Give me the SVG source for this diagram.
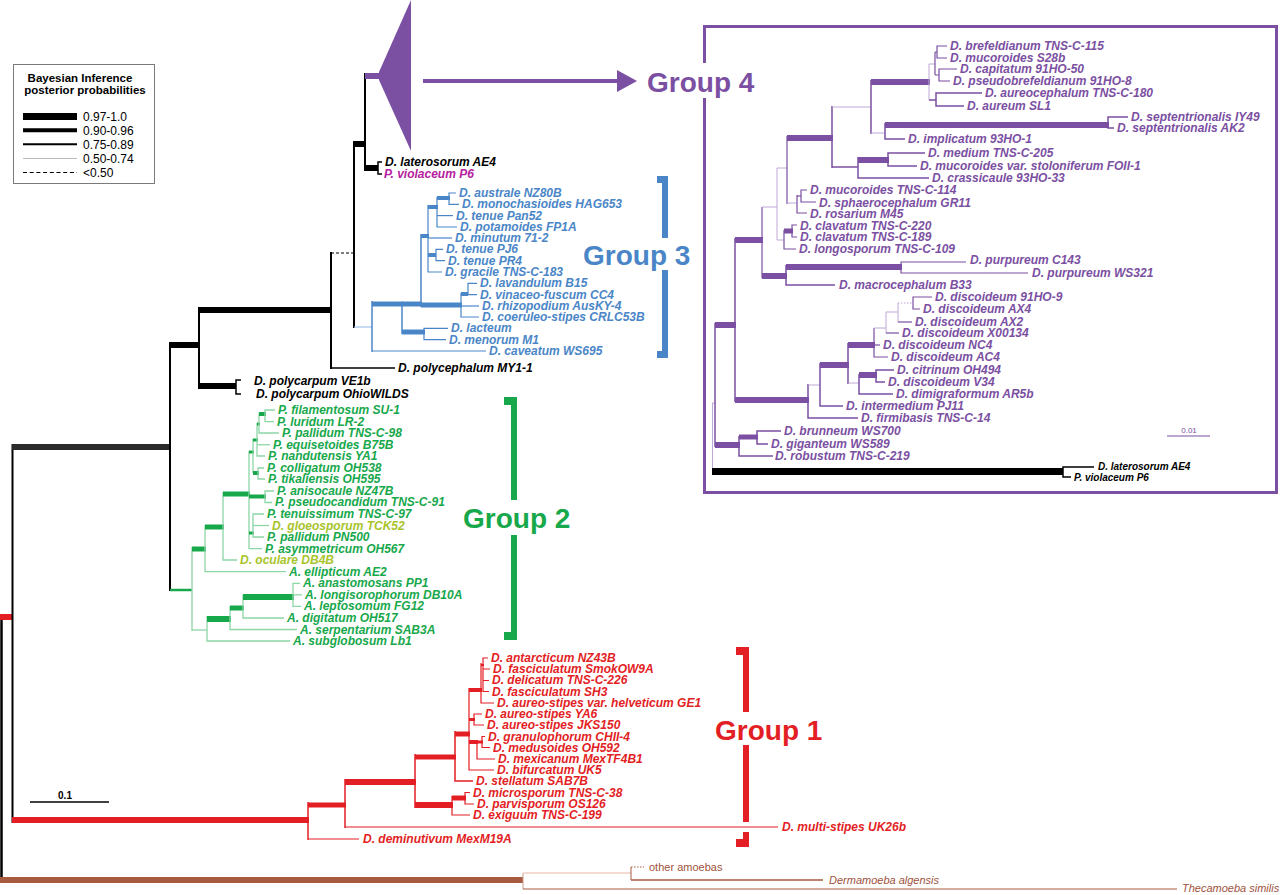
<svg xmlns="http://www.w3.org/2000/svg" width="1280" height="895" viewBox="0 0 1280 895">
<style>
text{font-family:"Liberation Sans",Arial,Helvetica,sans-serif}
.lab{font-size:12px;font-weight:bold;font-style:italic}
.lsm{font-size:10px;font-weight:bold;font-style:italic}
.grp{font-size:28px;font-weight:bold}
.leg{font-size:12px}
.legt{font-size:11.5px;font-weight:bold}
.blk{fill:#000}
.pur{fill:#7b4fa2}
.blu{fill:#4a86c7}
.grn{fill:#17a84b}
.ylg{fill:#a8c42c}
.red{fill:#e31e24}
.brn{fill:#a0523c;font-size:11px;font-style:italic}
path{fill:none}
.k{stroke:#000}
.p{stroke:#7b4fa2}
.pl{stroke:#bea8d8;stroke-width:1}
.b{stroke:#4a86c7}
.bl{stroke:#a9c7ec;stroke-width:1.3}
.g{stroke:#17a84b}
.gl{stroke:#8dd6a6;stroke-width:1.3}
.r{stroke:#e31e24}
.br{stroke:#a65a40}
.w7{stroke-width:7}.w6{stroke-width:6}.w5{stroke-width:5}.w4{stroke-width:4}.w3{stroke-width:3}.w2{stroke-width:2}.w15{stroke-width:1.5}.w1{stroke-width:1.2}
</style>
<rect x="0" y="0" width="1280" height="895" fill="#fff"/>

<g id="legend">
<rect x="13.5" y="64.5" width="141" height="119" fill="#fff" stroke="#7a7a7a" stroke-width="1"/>
<text class="legt" x="80" y="82" text-anchor="middle">Bayesian Inference</text>
<text class="legt" x="85" y="94" text-anchor="middle">posterior probabilities</text>
<path class="k w7" d="M23,116.5H77"/>
<path class="k w4" d="M23,130.3H77"/>
<path class="k w2" d="M23,144.3H77"/>
<path stroke="#bbb" stroke-width="1" d="M23,158.5H77"/>
<path class="k" stroke-width="1" stroke-dasharray="4,2.7" d="M23,172.5H77"/>
<text class="leg" x="83" y="121">0.97-1.0</text>
<text class="leg" x="83" y="135">0.90-0.96</text>
<text class="leg" x="83" y="149">0.75-0.89</text>
<text class="leg" x="83" y="163">0.50-0.74</text>
<text class="leg" x="83" y="177">&lt;0.50</text>
</g>

<g id="scale-bar">
<path class="k w15" d="M30,802H109"/>
<text x="65" y="799" text-anchor="middle" font-size="10" font-weight="bold">0.1</text>
</g>

<g id="group4-collapsed">
<polygon fill="#7b4fa2" points="379,72 411,0 411,151 379,80"/>
</g>

<g id="connectors">
<path class="k" stroke-width="2.5" d="M1.5,617V883"/>
<path class="r w6" d="M0,617H13"/>
<path class="k w2" d="M12.5,444V823"/>
<path stroke="#2b2b2b" class="w6" d="M12,447H171"/>
<path class="r w6" d="M12,820H309"/>
<path class="k w2" d="M170,342V591"/>
<path class="k w6" d="M170,345H200"/>
<path class="k w2" d="M199,307V389"/>
<path class="k w6" d="M199,310H332"/>
<path class="k w6" d="M199,386H236"/>
<path class="k w15" d="M241,380H236V394H241"/>
<path class="k w2" d="M331,252V369"/>
<path class="k w1" stroke-dasharray="3,2" d="M331,253H354"/>
<path class="k w15" d="M331,368H395"/>
<path class="k w2" d="M354,141V328"/>
<path class="k w6" d="M354,144H366"/>
<path class="k w2" d="M365,73V171"/>
<path class="p w6" d="M365,76H381"/>
<path class="k w6" d="M365,168H378"/>
<path class="k w15" d="M382,162H378V174H382"/>
<path class="bl" d="M354,327H372"/>
<path class="p w4" d="M423,81H620"/>
<polygon fill="#7b4fa2" points="617,70 637,81 617,92"/>

<path class="b w15" d="M372,301V352"/>
<path class="b w5" d="M372,304H403"/>
<path class="b w1" d="M372,351H486"/>
<path class="b w15" d="M402,302V334"/>
<path class="b w5" d="M402,304H422"/>
<path class="b w5" d="M402,332H425"/>
<path class="b w1" d="M448,328.4H424V339.7H446"/>
<path class="b w15" d="M421,234V307"/>
<path class="b w4" d="M421,236H429"/>
<path class="b w5" d="M421,305H462"/>
<path class="b w1" d="M428,205V272H442"/>
<path class="b w4" d="M428,207H438"/>
<path class="b w1" d="M428,238H452"/>
<path class="b w4" d="M428,255H436"/>
<path class="b w1" d="M437,197V227H457"/>
<path class="b w4" d="M437,198H450"/>
<path class="b w1" d="M437,215.6H453"/>
<path class="b w1" d="M456,193H449V204.3H459"/>
<path class="b w1" d="M443,249.4H436V260.7H445"/>
<path class="b w1" d="M461,293V317H479"/>
<path class="b w1" d="M461,306H479"/>
<path class="b w4" d="M461,294H468"/>
<path class="b w1" d="M477,283.3H468V294.6H477"/>

<path class="g" stroke-width="2.5" d="M170,590H192"/>
<path class="gl" d="M192,547V631"/>
<path class="g w5" d="M192,549H206"/>
<path class="gl" d="M192,630H207"/>
<path class="gl" d="M205,525V571.7H286"/>
<path class="g w5" d="M205,527H224"/>
<path class="gl" d="M223,492V560H237"/>
<path class="g w5" d="M223,494H250"/>
<path class="gl" d="M249,451V548.6H262"/>
<path class="g w3" d="M249,452H254"/>
<path class="g w4" d="M249,496.5H266"/>
<path class="gl" d="M274,491H265V502.5H272"/>
<path class="g w3" d="M249,533H254"/>
<path class="gl" d="M253,439V473"/>
<path class="g w3" d="M253,440H258"/>
<path class="g w4" d="M253,473H259"/>
<path class="gl" d="M264,468H258V479H265"/>
<path class="gl" d="M257,423V456H265"/>
<path class="gl" d="M257,444.7H270"/>
<path class="g w3" d="M257,424H260"/>
<path class="gl" d="M259,413V433H279"/>
<path class="g w4" d="M259,414H266"/>
<path class="gl" d="M275,410H265V421.6H274"/>
<path class="gl" d="M264,514H253V537H264"/>
<path class="gl" d="M253,525.5H269"/>
<path class="gl" d="M207,616V641H290"/>
<path class="g w6" d="M207,619H231"/>
<path class="gl" d="M230,606V629.5H297"/>
<path class="g w5" d="M230,608H244"/>
<path class="gl" d="M243,595V618H284"/>
<path class="g w6" d="M243,597H294"/>
<path class="gl" d="M300,583.3H293V606.4H301M293,594.8H302"/>

<path class="r w15" d="M308,802V840"/>
<path class="r w5" d="M308,805H346"/>
<path class="r w1" d="M308,839H359"/>
<path class="r w15" d="M345,779V828"/>
<path class="r w6" d="M345,782H416"/>
<path class="r w1" d="M345,827H778"/>
<path class="r w15" d="M415,754V808"/>
<path class="r w5" d="M415,757H456"/>
<path class="r w6" d="M415,805H453"/>
<path class="r w15" d="M455,731V781H473"/>
<path class="r w5" d="M455,734H470"/>
<path class="r w1" d="M469,688V770H494"/>
<path class="r w4" d="M469,690H482"/>
<path class="r w3" d="M469,719.5H475"/>
<path class="r w1" d="M482,714H474V725H484"/>
<path class="r w4" d="M469,742H478"/>
<path class="r w1" d="M481,663V703H494"/>
<path class="r w2" d="M481,665H484"/>
<path class="r w1" d="M488,658H483V691.5H489M483,669H490M483,680.5H489"/>
<path class="r w1" d="M477,740V759H495"/>
<path class="r w3" d="M477,742H483"/>
<path class="r w1" d="M485,736.5H482V747.5H490"/>
<path class="r w1" d="M452,796V815H470"/>
<path class="r w5" d="M452,798H466"/>
<path class="r w1" d="M470,792.5H465V804H474"/>

<path class="br w6" d="M0,880H523"/>
<path stroke="#c99a88" stroke-width="1" d="M523,873V889"/>
<path stroke="#f0cfc2" stroke-width="1.5" d="M523,873H631"/>
<path class="br" stroke-width="1" d="M631,867V880"/>
<path class="br" stroke-width="1" stroke-dasharray="1.5,1.5" d="M631,867H644"/>
<path class="br w15" d="M631,880H823"/>
<path class="br w1" d="M523,889H1177"/>

<path class="pl" d="M712.5,403V472M712,403H716"/>
<path class="k w7" d="M712,471.5H1063"/>
<path class="k w15" d="M1094,467H1063V477H1071"/>
<path class="p w15" d="M715,323V447"/>
<path class="p w6" d="M715,325H736"/>
<path class="p w6" d="M715,445H740"/>
<path class="p w15" d="M739,436V456H773"/>
<path class="p w5" d="M739,437H758"/>
<path class="p w15" d="M781,431H757V444H768"/>
<path class="p w15" d="M735,238V402"/>
<path class="p w6" d="M735,240H763"/>
<path class="p w6" d="M735,400H809"/>
<path class="p w1" d="M762,207V278"/>
<path class="pl" d="M762,207H777"/>
<path class="p w6" d="M762,276H787"/>
<path class="p w15" d="M786,265V285H835"/>
<path class="p w6" d="M786,267H902"/>
<path class="p w1" d="M966,262H901V273H1028"/>
<path class="pl" d="M777,168V240M777,168H787M777,240H784"/>
<path class="p w1" d="M787,136V204"/>
<path class="p w6" d="M787,138H833"/>
<path class="pl" d="M787,203H797"/>
<path class="p w15" d="M832,106V168"/>
<path class="pl" d="M832,107H871"/>
<path class="p w15" d="M832,167H858"/>
<path class="p w15" d="M871,80V134"/>
<path class="p w6" d="M871,82H930"/>
<path class="pl" d="M871,133H885"/>
<path class="pl" d="M929,64V100M929,64H935"/>
<path class="p w15" d="M929,100H936"/>
<path class="p w1" d="M935,52V75"/>
<path class="p w1" d="M935,52H937M935,75H939"/>
<path class="p w1" d="M947,46H937V58H947"/>
<path class="p w1" d="M957,69H939V81H950"/>
<path class="p w15" d="M982,93H936V106H964"/>
<path class="p w15" d="M885,123V139H905"/>
<path class="p w6" d="M885,125H1109"/>
<path class="p w15" d="M1128,117H1108V128H1114"/>
<path class="p w15" d="M858,157V178H929"/>
<path class="p w6" d="M858,160H889"/>
<path class="p w15" d="M925,153H888V166H917"/>
<path class="p w1" d="M797,195V213H807"/>
<path class="p w1" d="M797,196H801"/>
<path class="p w1" d="M807,190H801V202H816"/>
<path class="p w1" d="M784,230V249H796"/>
<path class="p w5" d="M784,231H793"/>
<path class="p w1" d="M797,225H792V237H797"/>
<path class="p w15" d="M808,384V418H858"/>
<path class="pl" d="M808,385H820"/>
<path class="p w15" d="M820,363V406H843"/>
<path class="p w6" d="M820,365H849"/>
<path class="p w15" d="M848,343V384"/>
<path class="p w6" d="M848,345H875"/>
<path class="pl" d="M848,383H859"/>
<path class="p w15" d="M859,374V394H893"/>
<path class="p w6" d="M859,375H877"/>
<path class="p w15" d="M894,370H876V382H885"/>
<path class="p w1" d="M874,328V357H888"/>
<path class="p w1" d="M874,345H880"/>
<path class="pl" d="M874,328H886M886,312V333M886,312H898"/>
<path class="p w1" d="M886,333H899"/>
<path class="pl" d="M898,303V322"/>
<path class="p w1" d="M898,322H912"/>
<path class="pl" stroke-dasharray="1.5,1.5" d="M898,303H913"/>
<path class="p w1" d="M932,297H913V309H920"/>
</g>

<g id="brackets">
<rect x="657" y="176" width="11" height="7" fill="#4a86c7"/>
<rect x="662" y="176" width="6" height="62" fill="#4a86c7"/>
<rect x="662" y="270" width="6" height="88" fill="#4a86c7"/>
<rect x="657" y="351" width="11" height="7" fill="#4a86c7"/>
<rect x="504" y="397" width="13" height="8" fill="#17a84b"/>
<rect x="511" y="397" width="6" height="103" fill="#17a84b"/>
<rect x="511" y="535" width="6" height="105" fill="#17a84b"/>
<rect x="504" y="632" width="13" height="8" fill="#17a84b"/>
<rect x="736" y="647" width="13" height="8" fill="#e31e24"/>
<rect x="743" y="647" width="6" height="65" fill="#e31e24"/>
<rect x="743" y="745" width="6" height="77" fill="#e31e24"/>
<rect x="743" y="832" width="6" height="15" fill="#e31e24"/>
<rect x="736" y="839" width="13" height="8" fill="#e31e24"/>
</g>

<g id="group4-box">
<path class="p" stroke-width="3" d="M704.5,63V26.5H1276.5V492.5H704.5V98"/>
<path class="p" stroke-width="1" d="M1167,436H1210"/>
<text x="1189" y="433" text-anchor="middle" font-size="8" class="pur">0.01</text>
</g>

<g id="group-titles">
<text class="grp" fill="#7b4fa2" x="647" y="92">Group 4</text>
<text class="grp" fill="#4a86c7" x="583" y="265">Group 3</text>
<text class="grp" fill="#17a84b" x="463" y="528">Group 2</text>
<text class="grp" fill="#e31e24" x="715" y="740">Group 1</text>
</g>

<g id="labels-main">
<text class="lab blk" x="385" y="166">D. laterosorum AE4</text>
<text class="lab" fill="#b5219e" x="384" y="178">P. violaceum P6</text>
<text class="lab blk" x="398" y="372">D. polycephalum MY1-1</text>
<text class="lab blk" x="254" y="385">D. polycarpum VE1b</text>
<text class="lab blk" x="256" y="398">D. polycarpum OhioWILDS</text>
</g>

<g id="labels-group3" class="lab blu">
<text x="459" y="197">D. australe NZ80B</text>
<text x="462" y="208.3">D. monochasioides HAG653</text>
<text x="456" y="219.6">D. tenue Pan52</text>
<text x="460" y="230.9">D. potamoides FP1A</text>
<text x="455" y="242.1">D. minutum 71-2</text>
<text x="446" y="253.4">D. tenue PJ6</text>
<text x="448" y="264.7">D. tenue PR4</text>
<text x="445" y="276">D. gracile TNS-C-183</text>
<text x="480" y="287.3">D. lavandulum B15</text>
<text x="480" y="298.6">D. vinaceo-fuscum CC4</text>
<text x="482" y="309.9">D. rhizopodium AusKY-4</text>
<text x="482" y="321.1">D. coeruleo-stipes CRLC53B</text>
<text x="451" y="332.4">D. lacteum</text>
<text x="449" y="343.7">D. menorum M1</text>
<text x="489" y="355">D. caveatum WS695</text>
</g>

<g id="labels-group2" class="lab grn">
<text x="278" y="414">P. filamentosum SU-1</text>
<text x="277" y="425.6">P. luridum LR-2</text>
<text x="282" y="437.1">P. pallidum TNS-C-98</text>
<text x="273" y="448.7">P. equisetoides B75B</text>
<text x="268" y="460.2">P. nandutensis YA1</text>
<text x="267" y="471.8">P. colligatum OH538</text>
<text x="268" y="483.3">P. tikaliensis OH595</text>
<text x="277" y="494.9">P. anisocaule NZ47B</text>
<text x="275" y="506.4">P. pseudocandidum TNS-C-91</text>
<text x="267" y="518">P. tenuissimum TNS-C-97</text>
<text x="272" y="529.5" class="ylg">D. gloeosporum TCK52</text>
<text x="267" y="541.1">P. pallidum PN500</text>
<text x="265" y="552.6">P. asymmetricum OH567</text>
<text x="240" y="564.2" class="ylg">D. oculare DB4B</text>
<text x="289" y="575.7">A. ellipticum AE2</text>
<text x="303" y="587.3">A. anastomosans PP1</text>
<text x="305" y="598.8">A. longisorophorum DB10A</text>
<text x="304" y="610.4">A. leptosomum FG12</text>
<text x="287" y="621.9">A. digitatum OH517</text>
<text x="300" y="633.5">A. serpentarium SAB3A</text>
<text x="293" y="645">A. subglobosum Lb1</text>
</g>

<g id="labels-group1" class="lab red">
<text x="491" y="662">D. antarcticum NZ43B</text>
<text x="493" y="673.2">D. fasciculatum SmokOW9A</text>
<text x="492" y="684.4">D. delicatum TNS-C-226</text>
<text x="492" y="695.6">D. fasciculatum SH3</text>
<text x="497" y="706.9">D. aureo-stipes var. helveticum GE1</text>
<text x="485" y="718.1">D. aureo-stipes YA6</text>
<text x="487" y="729.3">D. aureo-stipes JKS150</text>
<text x="488" y="740.5">D. granulophorum CHII-4</text>
<text x="493" y="751.7">D. medusoides OH592</text>
<text x="498" y="762.9">D. mexicanum MexTF4B1</text>
<text x="497" y="774.1">D. bifurcatum UK5</text>
<text x="476" y="785.3">D. stellatum SAB7B</text>
<text x="473" y="796.5">D. microsporum TNS-C-38</text>
<text x="477" y="807.8">D. parvisporum OS126</text>
<text x="473" y="819">D. exiguum TNS-C-199</text>
<text x="782" y="831">D. multi-stipes UK26b</text>
<text x="363" y="843">D. deminutivum MexM19A</text>
</g>

<g id="labels-group4" class="lab pur">
<text x="950" y="50">D. brefeldianum TNS-C-115</text>
<text x="950" y="62">D. mucoroides S28b</text>
<text x="960" y="73">D. capitatum 91HO-50</text>
<text x="953" y="85">D. pseudobrefeldianum 91HO-8</text>
<text x="985" y="97">D. aureocephalum TNS-C-180</text>
<text x="967" y="110">D. aureum SL1</text>
<text x="1131" y="121">D. septentrionalis IY49</text>
<text x="1117" y="132">D. septentrionalis AK2</text>
<text x="908" y="143">D. implicatum 93HO-1</text>
<text x="928" y="157">D. medium TNS-C-205</text>
<text x="920" y="170">D. mucoroides var. stoloniferum FOII-1</text>
<text x="932" y="182">D. crassicaule 93HO-33</text>
<text x="810" y="194">D. mucoroides TNS-C-114</text>
<text x="819" y="207">D. sphaerocephalum GR11</text>
<text x="810" y="218">D. rosarium M45</text>
<text x="800" y="230">D. clavatum TNS-C-220</text>
<text x="800" y="241">D. clavatum TNS-C-189</text>
<text x="799" y="253">D. longosporum TNS-C-109</text>
<text x="970" y="264">D. purpureum C143</text>
<text x="1032" y="277">D. purpureum WS321</text>
<text x="839" y="289">D. macrocephalum B33</text>
<text x="935" y="301">D. discoideum 91HO-9</text>
<text x="923" y="313">D. discoideum AX4</text>
<text x="915" y="326">D. discoideum AX2</text>
<text x="902" y="337">D. discoideum X00134</text>
<text x="883" y="349">D. discoideum NC4</text>
<text x="891" y="361">D. discoideum AC4</text>
<text x="897" y="374">D. citrinum OH494</text>
<text x="888" y="386">D. discoideum V34</text>
<text x="896" y="398">D. dimigraformum AR5b</text>
<text x="846" y="410">D. intermedium PJ11</text>
<text x="861" y="422">D. firmibasis TNS-C-14</text>
<text x="784" y="435">D. brunneum WS700</text>
<text x="771" y="448">D. giganteum WS589</text>
<text x="775" y="460">D. robustum TNS-C-219</text>
<text x="1098" y="470" class="lsm blk">D. laterosorum AE4</text>
<text x="1074" y="481" class="lsm blk">P. violaceum P6</text>
</g>

<g id="labels-outgroups">
<text x="649" y="871" fill="#a0523c" font-size="11">other amoebas</text>
<text x="829" y="884" class="brn">Dermamoeba algensis</text>
<text x="1182" y="892" class="brn">Thecamoeba similis</text>
</g>
</svg>
